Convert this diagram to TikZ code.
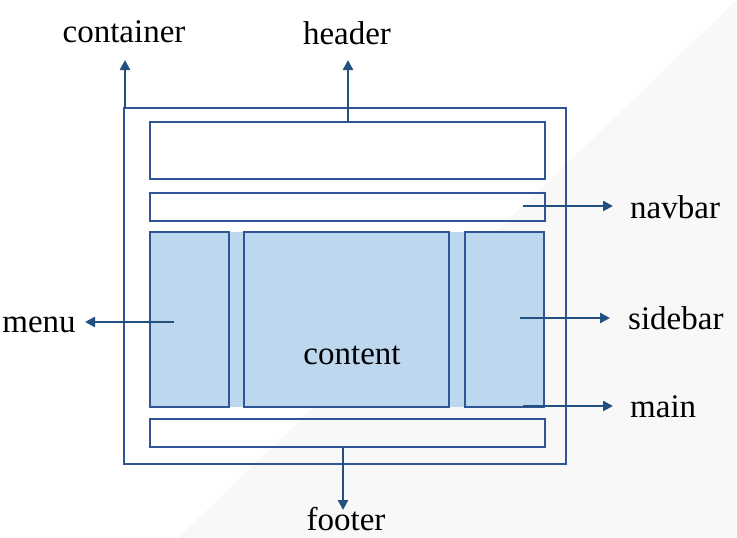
\documentclass[tikz,border=0pt]{standalone}
\usepackage{fontspec}
\setmainfont{Liberation Serif}
\usetikzlibrary{arrows.meta}
\definecolor{boxline}{HTML}{2F5597}
\definecolor{arrline}{HTML}{22507F}
\definecolor{boxfill}{HTML}{BDD7EE}
\definecolor{bgtri}{HTML}{F9F8F9}
\begin{document}
\begin{tikzpicture}[x=1pt,y=-1pt,
  area/.style={draw=boxline,line width=2.8pt,inner sep=0pt,outer sep=0pt},
  filled/.style={area,fill=boxfill},
  lbl/.style={inner sep=0pt,anchor=base,font=\fontsize{33}{40}\selectfont},
  conn/.style={draw=arrline,line width=2.4pt,-{Triangle[length=10pt,width=10pt]}}]
\useasboundingbox (0,0) rectangle (737,538);
\fill[white] (0,0) rectangle (737,538);
\fill[bgtri] (737,0) -- (737,538) -- (178,538) -- cycle;
% boxes
\node[area,minimum width=442pt,minimum height=356pt] (container) at (345,286) {};
\node[area,minimum width=395pt,minimum height=57pt] (header) at (347.5,150.5) {};
\node[area,minimum width=395pt,minimum height=28pt] (navbar) at (347.5,207) {};
\node[fill=boxfill,inner sep=0pt,minimum width=394pt,minimum height=175pt] (main) at (347,319.5) {};
\node[filled,minimum width=79pt,minimum height=175pt] (menu) at (189.5,319.5) {};
\node[filled,minimum width=205pt,minimum height=175pt] (content) at (346.5,319.5) {};
\node[filled,minimum width=79pt,minimum height=175pt] (sidebar) at (504.5,319.5) {};
\node[area,minimum width=395pt,minimum height=28pt] (footer) at (347.5,433) {};
% labels
\node[lbl] (tcontent) at (352,364) {content};
\node[lbl] (lcontainer) at (124,42) {container};
\node[lbl] (lheader) at (347,44) {header};
\node[lbl] (lmenu) at (39,332) {menu};
\node[lbl,anchor=base west] (lnavbar) at (630,218) {navbar};
\node[lbl,anchor=base west] (lsidebar) at (628,329) {sidebar};
\node[lbl,anchor=base west] (lmain) at (630,417) {main};
\node[lbl] (lfooter) at (346,530) {footer};
% arrow tips
\coordinate (tcont) at (125,60);
\coordinate (thead) at (348,60);
\coordinate (tmenu) at (85,322);
\coordinate (tnav) at (613,206);
\coordinate (tside) at (610,318);
\coordinate (tmain) at (613,406);
\coordinate (tfoot) at (343,510);
\coordinate (smenu) at (174,322);
\coordinate (snav) at (523,206);
\coordinate (sside) at (520,318);
\coordinate (smain) at (523,406);
% connectors
\draw[conn] (container.north west -| tcont) -- (tcont);
\draw[conn] (header.north -| thead) -- (thead);
\draw[conn] (smenu) -- (tmenu);
\draw[conn] (snav) -- (tnav);
\draw[conn] (sside) -- (tside);
\draw[conn] (smain) -- (tmain);
\draw[conn] (footer.south -| tfoot) -- (tfoot);
\end{tikzpicture}
\end{document}
